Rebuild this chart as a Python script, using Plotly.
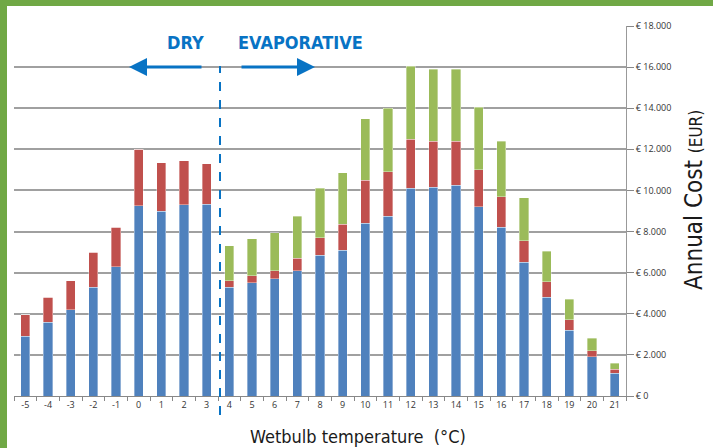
import plotly.graph_objects as go

# ---- data ----
temps = ["-5", "-4", "-3", "-2", "-1", "0", "1", "2", "3", "4", "5", "6", "7", "8",
         "9", "10", "11", "12", "13", "14", "15", "16", "17", "18", "19", "20", "21"]
blue_cost = [2900, 3600, 4200, 5300, 6300, 9250, 9000, 9300, 9330, 5300, 5500, 5700, 6100, 6850,
             7100, 8400, 8750, 10100, 10150, 10250, 9200, 8200, 6500, 4800, 3200, 1900, 1100]
red_cost = [1050, 1200, 1400, 1700, 1900, 2750, 2350, 2150, 1970, 300, 350, 400, 600, 850,
            1250, 2100, 2150, 2400, 2250, 2150, 1800, 1500, 1050, 750, 500, 300, 200]
green_cost = [0, 0, 0, 0, 0, 0, 0, 0, 0, 1700, 1800, 1850, 2050, 2400,
              2500, 3000, 3100, 3550, 3500, 3500, 3050, 2700, 2100, 1500, 1000, 600, 300]
y_tickvals = [0, 2000, 4000, 6000, 8000, 10000, 12000, 14000, 16000, 18000]
y_ticktext = ["€ 0", "€ 2.000", "€ 4.000", "€ 6.000", "€ 8.000", "€ 10.000",
              "€ 12.000", "€ 14.000", "€ 16.000", "€ 18.000"]

C_BLUE = "#4F81BD"
C_RED = "#C0504D"
C_GREEN = "#9BBB59"
C_ANN = "#0873C4"
FRAME = "#70A845"
NARROW = "DejaVu Sans Condensed, Liberation Sans Narrow, Roboto, sans-serif"
SMALL = "Open Sans, Liberation Sans, sans-serif"

fig = go.Figure()
for vals, col, name in [(blue_cost, C_BLUE, "blue"), (red_cost, C_RED, "red"), (green_cost, C_GREEN, "green")]:
    fig.add_trace(go.Bar(x=temps, y=vals, name=name, marker=dict(color=col,
                         line=dict(color="rgba(255,255,255,0.45)", width=0.8))))

W, H = 713, 448
L, R, T, B = 14, 87, 26, 52
pw, ph = W - L - R, H - T - B

def px(xp):
    return (xp - L) / pw

def py(yp):
    return (H - B - yp) / ph

fig.update_layout(
    width=W, height=H, barmode="stack", bargap=0.6, showlegend=False,
    margin=dict(l=L, r=R, t=T, b=B, pad=0),
    paper_bgcolor="white", plot_bgcolor="white",
    font=dict(family=SMALL, size=9, color="#333333"),
    xaxis=dict(type="category", tickson="boundaries", ticks="outside", ticklen=4,
               tickcolor="#888888", showline=True, linecolor="#888888", linewidth=1,
               showgrid=False, tickfont=dict(size=9, color="#333333"), fixedrange=True),
    yaxis=dict(side="right", range=[0, 18000], tickvals=y_tickvals, ticktext=y_ticktext,
               ticks="outside", ticklen=7, tickcolor="#888888", showline=True,
               linecolor="#999999", linewidth=1, showgrid=True, gridcolor="#A0A0A0",
               gridwidth=1.6, zeroline=False, ticklabelstandoff=0,
               tickfont=dict(size=9, color="#333333")),
)

shapes = [
    # green frame
    dict(type="rect", xref="paper", yref="paper", x0=px(0), x1=px(7), y0=py(H), y1=py(0),
         fillcolor=FRAME, line=dict(width=0), layer="above"),
    dict(type="rect", xref="paper", yref="paper", x0=px(0), x1=px(W), y0=py(6), y1=py(0),
         fillcolor=FRAME, line=dict(width=0), layer="above"),
    # dashed separator
    dict(type="line", xref="paper", yref="paper", x0=px(220), x1=px(220), y0=py(415), y1=py(66),
         line=dict(color=C_ANN, width=2, dash="dash")),
]
fig.update_layout(shapes=shapes)

ann = [
    dict(text="<b>DRY</b>", x=px(185), y=py(43), xref="paper", yref="paper", showarrow=False,
         xanchor="center", yanchor="middle", font=dict(family=NARROW, size=18, color=C_ANN)),
    dict(text="<b>EVAPORATIVE</b>", x=px(300), y=py(43), xref="paper", yref="paper", showarrow=False,
         xanchor="center", yanchor="middle", font=dict(family=NARROW, size=18, color=C_ANN)),
    dict(text="", x=px(129), y=py(67), xref="paper", yref="paper", showarrow=True,
         ax=74, ay=0, arrowhead=2, arrowwidth=3, arrowsize=1.2, arrowcolor=C_ANN, standoff=0),
    dict(text="", x=px(315), y=py(67), xref="paper", yref="paper", showarrow=True,
         ax=-75, ay=0, arrowhead=2, arrowwidth=3, arrowsize=1.2, arrowcolor=C_ANN, standoff=0),
    dict(text="Wetbulb temperature\u00a0\u00a0(°C)", x=px(358), y=py(436), xref="paper", yref="paper",
         xanchor="center", yanchor="middle", showarrow=False,
         font=dict(family=NARROW, size=18, color="#1a1a1a")),
    dict(text="Annual Cost <span style='font-size:17px'>(EUR)</span>", x=px(694), y=py(200),
         xref="paper", yref="paper", showarrow=False, textangle=-90,
         xanchor="center", yanchor="middle",
         font=dict(family=NARROW, size=24, color="#1a1a1a")),
]
fig.update_layout(annotations=ann)

fig.write_html("out.html", config={"displayModeBar": False},
               post_script="document.body.style.margin='0';")
